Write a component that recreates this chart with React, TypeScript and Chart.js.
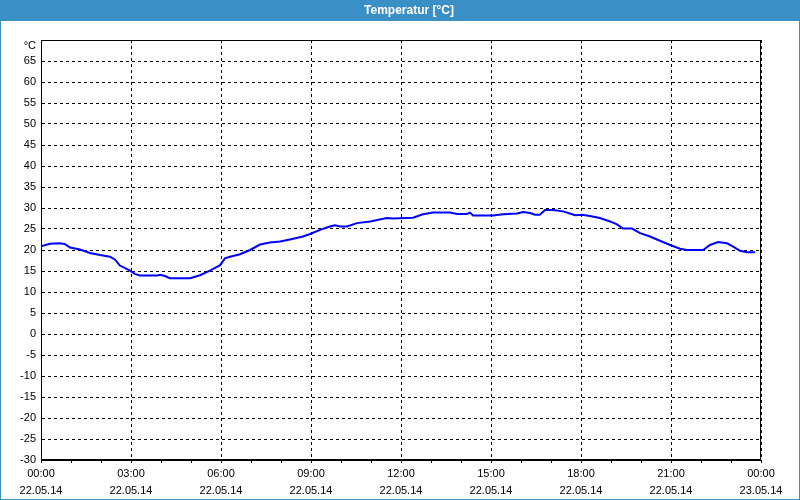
import React, { useEffect, useRef } from "react";
import { Chart, registerables } from "chart.js";

Chart.register(...registerables);

const chartTitle = "Temperatur [°C]";
const unitLabel = "°C";

// hours since 22.05.14 00:00
const hours = [
  0, 0.3, 0.63, 0.8, 0.97, 1.3, 1.63, 1.97, 2.3, 2.47, 2.63, 2.97, 3.13, 3.3, 3.87, 3.97, 4.13, 4.3, 4.97,
  5.3, 5.63, 5.97, 6.13, 6.3, 6.63, 6.97, 7.3, 7.63, 7.97, 8.3, 8.73, 8.97, 9.3, 9.63, 9.8, 9.97, 10.2,
  10.53, 10.97, 11.53, 11.73, 12.4, 12.73, 13.07, 13.63, 13.87, 14.2, 14.3, 14.4, 15.07, 15.4, 15.87,
  16.07, 16.3, 16.47, 16.63, 16.8, 17.07, 17.4, 17.63, 17.8, 18.03, 18.3, 18.63, 18.97, 19.2, 19.4, 19.7,
  19.97, 20.3, 20.63, 20.97, 21.3, 21.53, 22.07, 22.3, 22.57, 22.87, 23.07, 23.3, 23.53, 23.8,
];
const temperatures = [
  20.9, 21.5, 21.6, 21.4, 20.6, 20.1, 19.3, 18.8, 18.4, 17.7, 16.3, 15.1, 14.3, 13.9, 13.9, 14.1, 13.8, 13.3, 13.3,
  14.0, 15.1, 16.4, 18.0, 18.4, 19.0, 20.0, 21.3, 21.8, 22.0, 22.5, 23.2, 23.8, 24.8, 25.6, 25.9, 25.6, 25.6,
  26.4, 26.8, 27.6, 27.5, 27.7, 28.5, 28.9, 28.9, 28.6, 28.6, 28.9, 28.2, 28.2, 28.5, 28.7,
  29.05, 28.8, 28.4, 28.4, 29.5, 29.5, 29.2, 28.7, 28.3, 28.4, 28.1, 27.6, 26.8, 26.1, 25.1, 25.1,
  24.0, 23.2, 22.2, 21.2, 20.3, 20.0, 20.0, 21.2, 21.9, 21.6, 20.8, 19.8, 19.45, 19.45,
];

const xTickTimes = ["00:00", "03:00", "06:00", "09:00", "12:00", "15:00", "18:00", "21:00", "00:00"];
const xTickDates = ["22.05.14", "22.05.14", "22.05.14", "22.05.14", "22.05.14", "22.05.14", "22.05.14", "22.05.14", "23.05.14"];

const FONT = "'Liberation Sans', Arial, sans-serif";
const BLUE = "#3b8fc7";

export default function App() {
  const ref = useRef<HTMLCanvasElement | null>(null);

  useEffect(() => {
    document.body.style.margin = "0";
    const canvas = ref.current!;
    const framePlugin = {
      id: "frame",
      beforeDraw(chart: any) {
        const { ctx, width, height } = chart;
        ctx.save();
        ctx.fillStyle = "#fdfefd";
        ctx.fillRect(0, 0, width, height);
        ctx.fillStyle = BLUE;
        ctx.fillRect(0, 0, width, 21);
        ctx.strokeStyle = BLUE;
        ctx.lineWidth = 1;
        ctx.strokeRect(0.5, 0.5, width - 1, height - 1);
        ctx.fillStyle = "#ffffff";
        ctx.font = "bold 12px " + FONT;
        ctx.textAlign = "center";
        ctx.textBaseline = "middle";
        ctx.fillText(chartTitle, 409, 10.5);
        ctx.restore();
      },
      afterDraw(chart: any) {
        const { ctx, chartArea } = chart;
        ctx.save();
        ctx.strokeStyle = "#000";
        ctx.lineWidth = 1;
        const l = Math.round(chartArea.left) + 0.5;
        const t = Math.round(chartArea.top) + 0.5;
        const r = Math.round(chartArea.right) - 0.5;
        const b = Math.round(chartArea.bottom) - 0.5;
        ctx.strokeRect(l, t, r - l, b - t);
        ctx.fillStyle = "#000";
        ctx.font = "11px " + FONT;
        ctx.textAlign = "right";
        ctx.textBaseline = "middle";
        ctx.fillText(unitLabel, 36, 46);
        ctx.restore();
      },
    };

    const chart = new Chart(canvas, {
      type: "line",
      data: {
        datasets: [
          {
            data: hours.map((h, i) => ({ x: h, y: temperatures[i] })),
            borderColor: "#0000ff",
            borderWidth: 2,
            pointRadius: 0,
            tension: 0,
            fill: false,
          },
        ],
      },
      options: {
        animation: false,
        responsive: false,
        devicePixelRatio: 1,
        layout: { padding: { top: 40, right: 39, bottom: 0, left: 0 } },
        plugins: { legend: { display: false }, tooltip: { enabled: false }, title: { display: false } },
        scales: {
          x: {
            type: "linear",
            min: 0,
            max: 24,
            afterFit: (s: any) => {
              s.height = 40;
            },
            afterBuildTicks: (s: any) => {
              const t = [];
              for (let v = 0; v <= 24; v++) t.push({ value: v });
              s.ticks = t;
            },
            ticks: {
              autoSkip: false,
              maxRotation: 0,
              padding: 2,
              color: "#000",
              font: { family: FONT, size: 11, lineHeight: "17px" },
              callback: (v: any) => {
                const n = Number(v);
                if (n % 3 !== 0) return "";
                const i = n / 3;
                return [xTickTimes[i], xTickDates[i]];
              },
            },
            grid: {
              color: (c: any) => (c.tick && c.tick.value % 3 === 0 ? "#000" : "rgba(0,0,0,0)"),
              tickColor: "#000",
              tickLength: 3,
              lineWidth: 1,
            },
            border: { display: true, color: "#000", width: 1, dash: [3, 3] },
          },
          y: {
            min: -30,
            max: 70,
            afterFit: (s: any) => {
              s.width = 41;
            },
            ticks: {
              stepSize: 5,
              padding: 5,
              color: "#000",
              font: { family: FONT, size: 11 },
              callback: (v: any) => (Number(v) === 70 ? "" : String(v)),
            },
            grid: { color: "#000", drawTicks: false, lineWidth: 1 },
            border: { display: true, color: "#000", width: 1, dash: [3, 3] },
          },
        },
      },
      plugins: [framePlugin],
    });
    return () => chart.destroy();
  }, []);

  return (
    <div style={{ width: 800, height: 500 }}>
      <canvas ref={ref} width={800} height={500} style={{ display: "block" }} />
    </div>
  );
}
